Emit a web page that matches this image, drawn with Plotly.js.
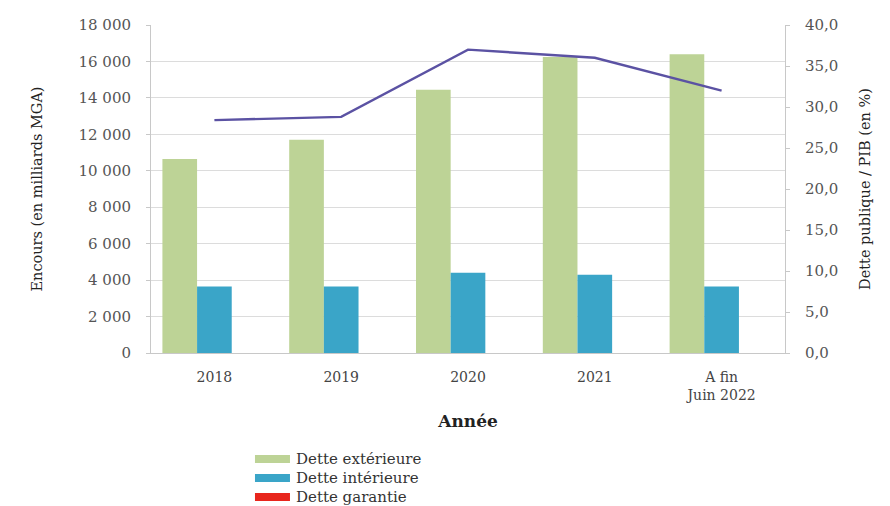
<!DOCTYPE html>
<html>
<head>
<meta charset="utf-8">
<script src="https://cdn.plot.ly/plotly-3.0.1.min.js"></script>
<style>html,body{margin:0;padding:0;background:#fff}#chart{width:890px;height:506px}</style>
</head>
<body>
<div id="chart"></div>
<script>
const categories = ["2018", "2019", "2020", "2021", "A fin<br>Juin 2022"];
const seriesNames = ["Dette extérieure", "Dette intérieure", "Dette garantie"];
const seriesColors = ["#bdd396", "#3aa5c8", "#e8261d"];
const detteExterieure = [10650, 11700, 14450, 16250, 16400];
const detteInterieure = [3650, 3650, 4400, 4300, 3650];
const detteGarantie = [0, 0, 0, 0, 0];
const dettePIB = [28.4, 28.8, 37.0, 36.0, 32.0];

const serif = "DejaVu Serif";
const barValues = [detteExterieure, detteInterieure, detteGarantie];
const data = barValues.map((vals, i) => ({
  type: "bar", name: seriesNames[i], x: categories, y: vals,
  marker: {color: seriesColors[i]}, showlegend: false
}));
data.push({type: "scatter", mode: "lines", name: "Dette publique / PIB", x: categories, y: dettePIB, yaxis: "y2",
  line: {color: "#5b52a3", width: 2.4}, showlegend: false});

// custom legend (wide swatches like the original)
const legX = 0.164, legTextX = 0.225;
const legY = [-0.323, -0.381, -0.439];
const shapes = seriesNames.map((n, i) => ({
  type: "rect", xref: "paper", yref: "paper", xsizemode: "pixel", ysizemode: "pixel",
  xanchor: legX, yanchor: legY[i], x0: 0, x1: 35, y0: -4, y1: 4,
  fillcolor: seriesColors[i], line: {width: 0}
}));
const annotations = seriesNames.map((n, i) => ({
  xref: "paper", yref: "paper", x: legTextX, y: legY[i], xanchor: "left", yanchor: "middle",
  text: n, showarrow: false, font: {family: serif, size: 15, color: "#333"}
}));

const layout = {
  width: 890, height: 506,
  margin: {l: 151, r: 105, t: 25, b: 153},
  paper_bgcolor: "#fff", plot_bgcolor: "#fff",
  separators: ", ",
  barmode: "group", bargap: 0.18, bargroupgap: 0,
  font: {family: serif, size: 13, color: "#444"},
  showlegend: false,
  shapes: shapes, annotations: annotations,
  xaxis: {type: "category", showgrid: false, showline: true, linecolor: "#c8c8c8",
          ticks: "", ticklabelstandoff: 11, tickfont: {family: serif, size: 14, color: "#444"},
          title: {text: "<b>Année</b>", font: {family: serif, size: 17, color: "#222"}, standoff: 13}},
  yaxis: {range: [0, 18000], dtick: 2000, tickformat: ",d", showgrid: true, gridcolor: "#dcdcdc",
          showline: true, linecolor: "#c8c8c8", ticks: "outside", ticklen: 4, tickcolor: "#c8c8c8",
          ticklabelstandoff: 12, tickfont: {family: serif, size: 15, color: "#555"}, zeroline: false,
          title: {text: "Encours (en milliards MGA)", font: {family: serif, size: 14.5, color: "#222"}, standoff: 32}},
  yaxis2: {overlaying: "y", side: "right", range: [0, 40], dtick: 5, tickformat: ".1f", showgrid: false,
           showline: true, linecolor: "#c8c8c8", ticks: "outside", ticklen: 4, tickcolor: "#c8c8c8",
           ticklabelstandoff: 12, tickfont: {family: serif, size: 15, color: "#555"}, zeroline: false,
           title: {text: "Dette publique / PIB (en %)", font: {family: serif, size: 14.5, color: "#222"}, standoff: 22}}
};
Plotly.newPlot("chart", data, layout, {displayModeBar: false, staticPlot: true});
</script>
</body>
</html>
